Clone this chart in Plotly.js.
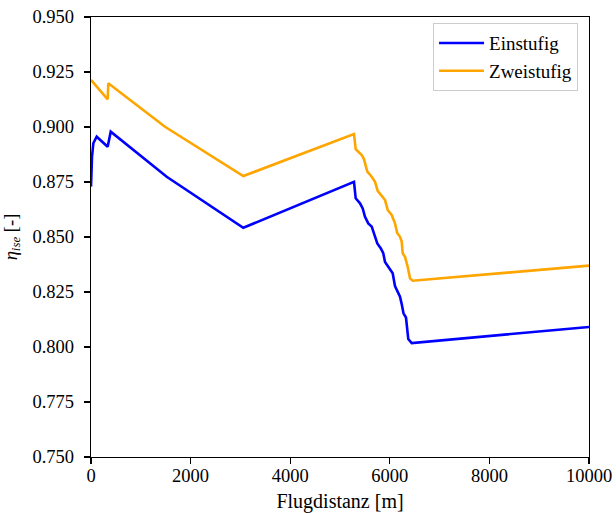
<!DOCTYPE html>
<html>
<head>
<meta charset="utf-8">
<script src="https://cdn.plot.ly/plotly-3.0.1.min.js"></script>
<style>html,body{margin:0;padding:0;background:#fff;}#chart{width:616px;height:513px;}</style>
</head>
<body>
<div id="chart"></div>
<script>
// Einstufig (blue)
const xEinstufig = [0, 20, 47, 114, 335, 382, 396, 1520, 3058, 5281, 5315, 5402, 5456, 5502, 5568, 5637, 5683, 5749, 5817, 5869, 5904, 5990, 6058, 6104, 6155, 6205, 6239, 6275, 6325, 6345, 6371, 6440, 10000];
const yEinstufig = [0.8729, 0.8865, 0.8926, 0.8956, 0.8910, 0.8975, 0.8979, 0.8774, 0.8542, 0.8751, 0.8676, 0.8653, 0.8630, 0.8592, 0.8562, 0.8547, 0.8517, 0.8471, 0.8449, 0.8426, 0.8386, 0.8358, 0.8335, 0.8277, 0.8251, 0.8229, 0.8195, 0.8153, 0.8134, 0.8073, 0.8036, 0.8018, 0.8091];
// Zweistufig (orange)
const xZweistufig = [0, 335, 347, 1486, 3058, 5281, 5315, 5436, 5482, 5548, 5637, 5703, 5757, 5857, 5904, 5958, 6038, 6104, 6151, 6205, 6239, 6259, 6305, 6359, 6406, 6460, 10000];
const yZweistufig = [0.9214, 0.9126, 0.9199, 0.9001, 0.8777, 0.8968, 0.8899, 0.8873, 0.8853, 0.8797, 0.8774, 0.8751, 0.8710, 0.8683, 0.8668, 0.8623, 0.8600, 0.8562, 0.8517, 0.8501, 0.8479, 0.8426, 0.8410, 0.8365, 0.8312, 0.8301, 0.8370];
const seriesNames = ["Einstufig", "Zweistufig"];
const xTicks = [0, 2000, 4000, 6000, 8000, 10000];
const yTicks = [0.750, 0.775, 0.800, 0.825, 0.850, 0.875, 0.900, 0.925, 0.950];

const font = {family: "Liberation Serif, DejaVu Serif, serif", size: 18.5, color: "#000"};
const titleFont = {family: "Liberation Serif, DejaVu Serif, serif", size: 20, color: "#000"};
const legendFont = {family: "Liberation Serif, DejaVu Serif, serif", size: 19, color: "#000"};

const traces = [
  {x: xEinstufig, y: yEinstufig, name: seriesNames[0], mode: "lines", line: {color: "#0000ff", width: 2.6}},
  {x: xZweistufig, y: yZweistufig, name: seriesNames[1], mode: "lines", line: {color: "#ffa500", width: 2.6}}
];

const layout = {
  width: 616, height: 513,
  margin: {l: 91, r: 27, t: 17, b: 56},
  paper_bgcolor: "#fff", plot_bgcolor: "#fff",
  font: font,
  showlegend: true,
  legend: {x: 0.978, y: 0.986, xanchor: "right", yanchor: "top", bgcolor: "rgba(255,255,255,0.8)", bordercolor: "#cccccc", borderwidth: 1, font: legendFont, tracegroupgap: 0, itemwidth: 45},
  xaxis: {
    range: [0, 10000], tickvals: xTicks, ticktext: xTicks.map(v => String(v)),
    showgrid: false, zeroline: false, showline: true, mirror: true, linecolor: "#000", linewidth: 1.2,
    ticks: "outside", ticklen: 6, tickwidth: 1.2, tickcolor: "#000",
    ticklabelstandoff: -4,
    title: {text: "Flugdistanz [m]", font: titleFont, standoff: 13},
    automargin: false
  },
  yaxis: {
    range: [0.75, 0.95], tickvals: yTicks, ticktext: yTicks.map(v => v.toFixed(3)),
    showgrid: false, zeroline: false, showline: true, mirror: true, linecolor: "#000", linewidth: 1.2,
    ticks: "outside", ticklen: 6, tickwidth: 1.2, tickcolor: "#000",
    ticklabelstandoff: 6,
    title: {text: "<i>η</i><sub><i>ise</i></sub> [-]", font: font, standoff: 10},
    automargin: false
  }
};

Plotly.newPlot("chart", traces, layout, {displayModeBar: false, staticPlot: true});
</script>
</body>
</html>
